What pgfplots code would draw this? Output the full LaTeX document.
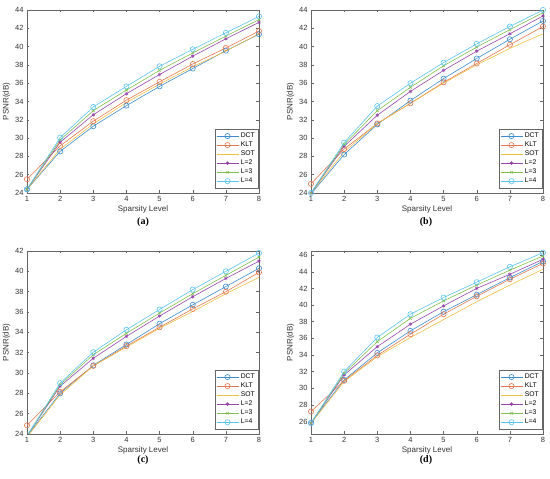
\documentclass[border=0pt]{standalone}
\usepackage{pgfplots}
\pgfplotsset{compat=1.18}
\usepackage{fontspec}
\setmainfont{Liberation Sans}
\newfontfamily\capfont{Liberation Serif}
\definecolor{cDCT}{RGB}{60,140,205}
\definecolor{cKLT}{RGB}{228,120,80}
\definecolor{cSOT}{RGB}{240,190,70}
\definecolor{cL2}{RGB}{150,70,170}
\definecolor{cL3}{RGB}{130,190,80}
\definecolor{cL4}{RGB}{90,195,240}
\pgfplotsset{
  myax/.style={
    width=232pt, height=183pt, scale only axis,
    xmin=1, xmax=8, xtick={1,...,8}, ytick distance=2,
    /pgf/number format/assume math mode=true,
    tick label style={font=\fontsize{7.5}{8}\selectfont, color=black!80},
    label style={font=\fontsize{8}{9}\selectfont, color=black!80},
    xlabel={Sparsity Level}, ylabel={PSNR(dB)},
    xlabel style={yshift=3.5pt}, ylabel style={yshift=-2pt},
    axis line style={black!60, line width=0.4pt},
    major tick length=2.5pt,
    tick style={black!60, line width=0.4pt},
    every axis plot/.append style={line width=0.6pt},
    legend style={at={(1,0)}, anchor=south east, xshift=-0.5pt, yshift=5pt,
      font=\fontsize{6.8}{7}\selectfont, draw=black!60, line width=0.4pt,
      row sep=-1.2pt, inner sep=1.5pt},
    legend cell align=left,
    legend image code/.code={
      \draw[mark repeat=2,mark phase=2,#1] plot coordinates {(0pt,0pt) (11pt,0pt) (22pt,0pt)};},
  },
  sDCT/.style={color=cDCT, mark=o, mark size=2.6pt},
  sKLT/.style={color=cKLT, mark=o, mark size=2.6pt},
  sSOT/.style={color=cSOT, mark=none},
  sL2/.style={color=cL2, mark=asterisk, mark size=1.8pt},
  sL3/.style={color=cL3, mark=x, mark size=1.8pt},
  sL4/.style={color=cL4, mark=o, mark size=2.6pt},
}
\begin{document}
\begin{tikzpicture}
\useasboundingbox (0pt,0pt) rectangle (550pt,479pt);
% (a)
\begin{axis}[myax, at={(27pt,286pt)}, anchor=south west, ymin=24, ymax=44]
\addplot[sDCT] coordinates {(1,24.4) (2,28.55) (3,31.3) (4,33.55) (5,35.65) (6,37.6) (7,39.55) (8,41.35)};
\addplot[sKLT] coordinates {(1,25.5) (2,29.15) (3,31.85) (4,34.15) (5,36.15) (6,38.1) (7,39.85) (8,41.7)};
\addplot[sSOT] coordinates {(1,24.4) (2,28.8) (3,31.55) (4,33.9) (5,35.9) (6,37.8) (7,39.5) (8,41.4)};
\addplot[sL2] coordinates {(1,24.4) (2,29.55) (3,32.55) (4,34.85) (5,36.95) (6,38.95) (7,40.85) (8,42.65)};
\addplot[sL3] coordinates {(1,24.4) (2,29.8) (3,33.0) (4,35.25) (5,37.4) (6,39.3) (7,41.15) (8,42.95)};
\addplot[sL4] coordinates {(1,24.4) (2,30.05) (3,33.4) (4,35.65) (5,37.85) (6,39.7) (7,41.5) (8,43.3)};
\legend{DCT,KLT,SOT,L=2,L=3,L=4}
\end{axis}
% (b)
\begin{axis}[myax, at={(311pt,286pt)}, anchor=south west, ymin=24, ymax=44]
\addplot[sDCT] coordinates {(1,23.9) (2,28.2) (3,31.5) (4,34.1) (5,36.5) (6,38.7) (7,40.8) (8,42.8)};
\addplot[sKLT] coordinates {(1,25.0) (2,28.8) (3,31.6) (4,33.8) (5,36.1) (6,38.15) (7,40.2) (8,42.2)};
\addplot[sSOT] coordinates {(1,24.0) (2,28.5) (3,31.6) (4,33.8) (5,36.0) (6,38.0) (7,39.8) (8,41.4)};
\addplot[sL2] coordinates {(1,24.0) (2,29.1) (3,32.5) (4,35.1) (5,37.4) (6,39.5) (7,41.4) (8,43.35)};
\addplot[sL3] coordinates {(1,24.0) (2,29.3) (3,33.0) (4,35.55) (5,37.9) (6,39.95) (7,41.85) (8,43.7)};
\addplot[sL4] coordinates {(1,24.0) (2,29.5) (3,33.5) (4,36.0) (5,38.25) (6,40.3) (7,42.2) (8,44.0)};
\legend{DCT,KLT,SOT,L=2,L=3,L=4}
\end{axis}
% (c)
\begin{axis}[myax, at={(27pt,45pt)}, anchor=south west, ymin=24, ymax=42]
\addplot[sDCT] coordinates {(1,23.8) (2,28.0) (3,30.75) (4,32.8) (5,34.85) (6,36.7) (7,38.5) (8,40.3)};
\addplot[sKLT] coordinates {(1,24.85) (2,28.15) (3,30.7) (4,32.65) (5,34.5) (6,36.3) (7,38.0) (8,39.9)};
\addplot[sSOT] coordinates {(1,23.7) (2,27.85) (3,30.7) (4,32.55) (5,34.4) (6,36.05) (7,37.8) (8,39.4)};
\addplot[sL2] coordinates {(1,23.8) (2,28.7) (3,31.45) (4,33.6) (5,35.6) (6,37.5) (7,39.3) (8,41.0)};
\addplot[sL3] coordinates {(1,23.8) (2,28.85) (3,31.8) (4,33.9) (5,35.9) (6,37.8) (7,39.6) (8,41.4)};
\addplot[sL4] coordinates {(1,23.8) (2,29.0) (3,32.05) (4,34.25) (5,36.25) (6,38.2) (7,40.0) (8,41.8)};
\legend{DCT,KLT,SOT,L=2,L=3,L=4}
\end{axis}
% (d)
\begin{axis}[myax, at={(311pt,45pt)}, anchor=south west, ymin=24.5, ymax=46.5, ytick={26,28,...,46}]
\addplot[sDCT] coordinates {(1,25.85) (2,31.0) (3,34.25) (4,36.9) (5,39.2) (6,41.25) (7,43.3) (8,45.25)};
\addplot[sKLT] coordinates {(1,27.2) (2,30.9) (3,33.95) (4,36.5) (5,38.9) (6,41.05) (7,43.1) (8,45.0)};
\addplot[sSOT] coordinates {(1,25.8) (2,30.8) (3,33.8) (4,36.1) (5,38.25) (6,40.4) (7,42.4) (8,44.3)};
\addplot[sL2] coordinates {(1,25.8) (2,31.6) (3,35.0) (4,37.7) (5,39.9) (6,42.0) (7,43.7) (8,45.5)};
\addplot[sL3] coordinates {(1,25.8) (2,31.8) (3,35.6) (4,38.4) (5,40.5) (6,42.4) (7,44.2) (8,45.9)};
\addplot[sL4] coordinates {(1,25.8) (2,32.0) (3,36.1) (4,38.9) (5,40.9) (6,42.75) (7,44.6) (8,46.3)};
\legend{DCT,KLT,SOT,L=2,L=3,L=4}
\end{axis}
\node[font=\capfont\bfseries\fontsize{10}{12}\selectfont, inner sep=0pt] at (143pt,257pt) {(a)};
\node[font=\capfont\bfseries\fontsize{10}{12}\selectfont, inner sep=0pt] at (426pt,257pt) {(b)};
\node[font=\capfont\bfseries\fontsize{10}{12}\selectfont, inner sep=0pt] at (143pt,18.5pt) {(c)};
\node[font=\capfont\bfseries\fontsize{10}{12}\selectfont, inner sep=0pt] at (426pt,18.5pt) {(d)};
\end{tikzpicture}
\end{document}
